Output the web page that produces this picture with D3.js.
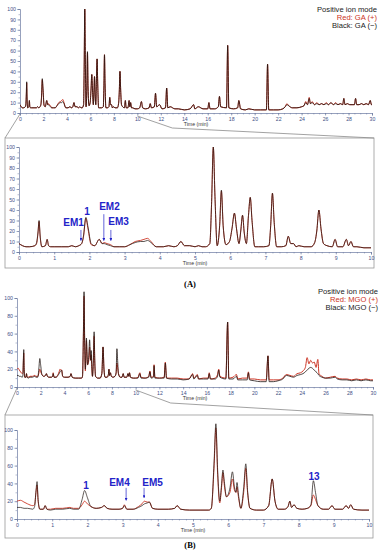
<!DOCTYPE html>
<html><head><meta charset="utf-8">
<script src="https://cdn.jsdelivr.net/npm/d3@7"></script>
<style>body{margin:0;background:#fff}svg{display:block}</style>
</head><body>
<svg id="c" width="381" height="550"></svg>
<script>
// [time (min), red trace, black trace]
const gaTrace = [
[0.00,8,8],[0.10,6,6],[0.20,5,5],[0.30,5,5],[0.45,6,6],[0.50,8,9],[0.54,18,19],[0.57,29,30],[0.60,15,16],[0.65,5,5],
[0.75,6,6],[0.80,12,12],[0.84,6,6],[0.90,5,5],[1.00,5,5],[1.20,5,5],[1.40,5,5],[1.50,6,6],[1.60,5,5],[1.70,6,6],
[1.78,8,8],[1.83,14,15],[1.90,32,33],[1.96,22,24],[2.05,7,8],[2.15,6,6],[2.28,12,12],[2.36,8,8],[2.42,9,8],[2.50,8,7],
[2.60,7,6],[2.70,5,5],[2.85,5,5],[3.00,5,5],[3.15,7,7],[3.30,10,9],[3.45,11,10],[3.55,12,10],[3.65,13,11],[3.75,10,9],
[3.90,5,5],[4.10,5,5],[4.25,6,6],[4.40,5,5],[4.50,6,6],[4.60,10,10],[4.70,6,6],[4.85,6,6],[5.00,5,5],[5.10,6,6],
[5.20,5,5],[5.30,5,5],[5.42,8,8],[5.47,45,45],[5.52,100,100],[5.57,50,50],[5.63,6,6],[5.70,25,25],[5.75,58,59],[5.80,25,25],
[5.88,7,7],[5.98,10,10],[6.05,22,22],[6.12,37,37],[6.18,22,22],[6.25,8,8],[6.30,20,20],[6.35,35,35],[6.40,18,18],[6.46,8,8],
[6.52,35,35],[6.57,52,52],[6.62,30,30],[6.70,5,5],[6.80,5,5],[6.95,5,5],[7.10,6,6],[7.15,25,25],[7.20,56,56],[7.25,28,28],
[7.32,5,5],[7.45,5,5],[7.58,6,6],[7.65,15,15],[7.72,8,8],[7.80,8,8],[7.87,5,5],[7.95,6,6],[8.10,5,5],[8.30,5,5],
[8.40,9,9],[8.46,20,20],[8.52,40,40],[8.58,22,22],[8.65,8,8],[8.75,6,6],[8.90,5,5],[8.98,12,12],[9.05,5,5],[9.20,5,5],
[9.30,12,12],[9.36,6,6],[9.43,10,10],[9.50,5,5],[9.60,5,5],[9.80,4,4],[10.00,4,4],
[10.20,5,5],[10.35,11,11],[10.45,5,5],[10.70,4,4],[11.00,5,5],[11.10,9,9],[11.20,5,5],[11.45,6,6],[11.55,19,19],[11.65,6,6],
[11.90,8,8],[12.10,4,4],[12.40,5,5],[12.50,24,24],[12.60,5,5],[12.80,6,6],[13.20,4,4],[13.50,4,4],[14.00,3,3],[14.50,4,4],
[14.80,8,8],[14.90,4,4],[15.20,6,6],[15.60,4,4],[16.00,4,4],[16.10,10,10],[16.20,4,4],[16.60,4,4],[16.90,6,6],[17.00,16,16],
[17.10,6,6],[17.60,5,5],[17.70,65,65],[17.80,5,5],[18.20,4,4],[18.55,5,5],[18.65,12,12],[18.80,4,4],[19.20,3,3],[19.50,4,4],
[20.00,3,3],[20.50,3,3],[21.00,3,3],[21.10,47,47],[21.20,3,3],[21.60,3,3],[22.00,3,3],[22.40,4,4],[22.60,6,6],[22.75,9,8],
[22.90,7,7],[23.20,5,5],[23.60,5,5],[24.00,6,6],[24.20,7,7],[24.35,11,10],[24.50,8,8],[24.65,15,14],[24.75,9,9],[24.90,11,10],
[25.10,8,8],[25.30,10,9],[25.50,8,8],[25.70,9,9],[25.90,8,8],[26.10,10,9],[26.30,8,8],[26.50,10,10],[26.70,8,8],[26.90,10,9],
[27.10,8,8],[27.30,9,9],[27.50,8,8],[27.60,14,14],[27.70,8,8],[27.90,9,9],[28.10,8,8],[28.30,8,8],[28.50,8,8],[28.60,14,14],
[28.70,8,8],[28.90,8,8],[29.10,9,9],[29.30,8,8],[29.50,9,9],[29.70,8,8],[29.85,12,12],[29.95,8,8],[30.00,8,8]
];
const mgoTrace = [
[0.00,20,13],[0.10,21,13],[0.20,19,12],[0.30,17,12],[0.45,15,11],[0.50,16,14],[0.54,30,32],[0.57,38,42],[0.60,20,22],[0.65,11,11],
[0.75,11,11],[0.80,15,15],[0.85,11,11],[0.95,11,10],[1.10,12,11],[1.30,12,11],[1.50,13,12],[1.60,12,11],[1.75,12,11],[1.85,16,22],
[1.92,20,32],[2.00,17,24],[2.10,14,14],[2.25,12,12],[2.40,13,13],[2.48,15,15],[2.56,12,12],[2.70,11,11],[2.90,11,11],[3.00,12,12],
[3.05,16,15],[3.12,11,11],[3.30,11,11],[3.45,14,13],[3.55,17,15],[3.62,20,17],[3.70,19,18],[3.76,19,19],[3.85,12,12],[4.00,11,11],
[4.30,11,11],[4.48,12,12],[4.55,15,15],[4.65,11,11],[4.90,10,10],[5.20,10,10],[5.45,10,10],[5.52,12,12],[5.60,60,65],[5.65,102,107],
[5.70,50,55],[5.76,18,20],[5.81,35,38],[5.85,52,55],[5.89,38,42],[5.95,25,25],[6.05,30,35],[6.12,45,53],[6.18,32,35],[6.22,30,30],
[6.25,36,41],[6.29,25,28],[6.36,12,12],[6.44,30,35],[6.50,57,62],[6.55,30,32],[6.62,12,12],[6.80,10,10],[7.00,10,10],[7.15,15,15],
[7.25,45,45],[7.33,20,20],[7.42,11,11],[7.60,11,11],[7.70,14,14],[7.75,20,20],[7.80,13,13],[7.87,16,16],[7.95,12,12],[8.10,11,11],
[8.25,12,12],[8.35,15,16],[8.42,27,43],[8.48,22,30],[8.55,15,15],[8.70,11,11],[8.85,11,11],[8.95,15,15],[9.03,11,11],[9.25,11,11],
[9.35,15,15],[9.42,12,12],[9.48,16,16],[9.56,11,11],[9.80,10,10],[10.00,10,10],
[10.20,11,10],[10.35,16,15],[10.45,11,10],[10.80,10,10],[11.10,12,11],[11.20,18,17],[11.30,11,10],[11.50,12,11],[11.55,25,24],[11.62,11,10],
[12.00,10,10],[12.40,11,10],[12.50,28,27],[12.60,10,10],[13.00,10,9],[13.50,10,9],[14.00,9,8],[14.50,9,9],[14.80,15,14],[14.90,10,9],
[15.20,14,13],[15.30,9,9],[15.70,10,9],[16.10,10,9],[16.20,16,15],[16.30,9,9],[16.70,10,9],[16.90,14,12],[17.00,20,19],[17.10,12,11],
[17.60,10,9],[17.75,73,73],[17.85,10,9],[18.20,11,9],[18.50,14,12],[18.60,9,8],[19.00,10,8],[19.40,10,8],[19.50,17,16],[19.60,9,8],
[20.00,9,7],[20.50,8,6],[21.00,8,6],[21.15,35,35],[21.25,8,6],[21.60,8,6],[22.00,8,7],[22.40,10,9],[22.70,14,13],[23.00,13,12],
[23.30,12,11],[23.60,15,13],[23.90,16,14],[24.10,18,15],[24.30,22,17],[24.45,33,19],[24.60,26,21],[24.75,30,22],[24.90,27,21],[25.05,28,19],
[25.20,22,17],[25.35,31,15],[25.45,15,13],[25.70,12,11],[26.00,10,10],[26.40,11,10],[26.80,12,11],[27.00,10,9],[27.40,9,8],[27.80,9,8],
[28.20,8,7],[28.60,9,8],[29.00,8,7],[29.40,9,8],[29.80,8,7],[30.00,8,7]
];
const fullTimeTicks = [0,2,4,6,8,10,12,14,16,18,20,22,24,26,28,30];
const zoomTimeTicks = [0,1,2,3,4,5,6,7,8,9,10];
const gaYTicks = [0,10,20,30,40,50,60,70,80,90,100];
const mgoYTicks = [0,20,40,60,80,100];
const legendA = ["Positive ion mode","Red: GA (+)","Black: GA (\u2212)"];
const legendB = ["Positive ion mode","Red: MGO (+)","Black: MGO (\u2212)"];
const panelLabels = ["(A)","(B)"];
const axisTitle = "Time (min)";
// annotations: [label, time, value]
const annotA = [["EM1",1.55,25],["1",1.93,35],["EM2",2.57,40],["EM3",2.83,26]];
const arrowsA = [[1.76,21,11],[2.41,36,11],[2.61,21,11]];
const annotB = [["1",1.96,34],["EM4",2.91,37],["EM5",3.85,37],["13",8.44,44]];
const arrowsB = [[3.10,35,21],[3.61,35,24]];

const svg = d3.select("#c");
const RED = "#cc3424", BLK = "#1e1410", AX = "#6a78a0", LBL = "#3f4f86", BLUE = "#2323c8";
const defs = svg.append("defs");
defs.append("marker").attr("id","ah").attr("viewBox","0 0 6 6").attr("refX",5).attr("refY",3)
  .attr("markerWidth",4).attr("markerHeight",4).attr("orient","auto")
  .append("path").attr("d","M0,0L6,3L0,6Z").attr("fill",BLUE);

let clipId = 0;
function panel(o){
  const x = d3.scaleLinear().domain([0,o.tmax]).range([o.x0,o.x1]);
  const y = d3.scaleLinear().domain([0,100]).range([o.yb,o.yt]);
  const g = svg.append("g");
  const xm = g.append("g").attr("transform",`translate(0,${o.yb})`)
    .call(d3.axisBottom(x).tickValues(d3.range(0,o.tmax+1e-9,o.xMinor)).tickSize(1.5).tickFormat(""));
  xm.select(".domain").remove(); xm.selectAll("line").attr("stroke",AX).attr("stroke-width",0.5);
  const ym = g.append("g").attr("transform",`translate(${o.x0},0)`)
    .call(d3.axisLeft(y).tickValues(d3.range(0,100.1,o.yMinor)).tickSize(1.5).tickFormat(""));
  ym.select(".domain").remove(); ym.selectAll("line").attr("stroke",AX).attr("stroke-width",0.5);
  const xa = g.append("g").attr("transform",`translate(0,${o.yb})`)
    .call(d3.axisBottom(x).tickValues(o.xTicks).tickSize(2.5).tickPadding(1.5));
  const ya = g.append("g").attr("transform",`translate(${o.x0},0)`)
    .call(d3.axisLeft(y).tickValues(o.yTicks).tickSize(2.5).tickPadding(1.5));
  [xa,ya].forEach(a=>{
    a.select(".domain").attr("stroke",AX).attr("stroke-width",0.7);
    a.selectAll("line").attr("stroke",AX).attr("stroke-width",0.6);
    a.selectAll("text").attr("fill",LBL).attr("font-size",5.2).attr("font-family","Liberation Sans, Arial, sans-serif");
  });
  g.append("text").attr("x",(o.x0+o.x1)/2).attr("y",o.yb+12.5).attr("text-anchor","middle")
    .attr("font-size",5.2).attr("fill","#333").attr("font-family","Liberation Sans, Arial, sans-serif").text(axisTitle);
  const id = "clip"+(clipId++);
  defs.append("clipPath").attr("id",id).append("rect")
    .attr("x",o.x0).attr("y",o.yt-20).attr("width",o.x1-o.x0).attr("height",o.yb-o.yt+20);
  const data = o.data.filter(d=>d[0]<=o.tmax+1e-9);
  const lr = d3.line().x(d=>x(d[0])).y(d=>y(d[1])).curve(d3.curveMonotoneX);
  const lb = d3.line().x(d=>x(d[0])).y(d=>y(d[2])).curve(d3.curveMonotoneX);
  const tg = g.append("g").attr("clip-path",`url(#${id})`);
  tg.append("path").attr("d",lr(data)).attr("fill","none").attr("stroke",RED).attr("stroke-width",o.lw).attr("stroke-linejoin","round");
  tg.append("path").attr("d",lb(data)).attr("fill","none").attr("stroke",BLK).attr("stroke-width",o.lw*0.9).attr("stroke-opacity",0.88).attr("stroke-linejoin","round");
  return {x,y,g};
}
function legend(lines,xr,y0){
  const cols = ["#222",RED,"#222"];
  lines.forEach((t,i)=>svg.append("text").attr("x",xr).attr("y",y0+i*8).attr("text-anchor","end")
    .attr("font-size",7.6).attr("fill",cols[i]).attr("font-family","Liberation Sans, Arial, sans-serif").text(t));
}
function annots(p,labels,arrows){
  labels.forEach(([t,tx,v])=>p.g.append("text").attr("x",p.x(tx)).attr("y",p.y(v)).attr("text-anchor","middle")
    .attr("font-size",10).attr("font-weight","bold").attr("fill",BLUE)
    .attr("font-family","Liberation Sans, Arial, sans-serif").text(t));
  arrows.forEach(([tx,v0,v1])=>p.g.append("line").attr("x1",p.x(tx)).attr("x2",p.x(tx))
    .attr("y1",p.y(v0)).attr("y2",p.y(v1)).attr("stroke",BLUE).attr("stroke-width",0.7).attr("marker-end","url(#ah)"));
}
function zoomLines(p0,yBoxTop,boxL,boxR,kinkY){
  const c="#8a8a8a";
  svg.append("line").attr("x1",p0.x(0)).attr("y1",p0.y(0)+1).attr("x2",boxL).attr("y2",yBoxTop).attr("stroke",c).attr("stroke-width",0.8);
  svg.append("polyline").attr("points",`${p0.x(10)},${p0.y(0)+3} ${p0.x(10)+35},${kinkY} ${boxR},${yBoxTop}`)
    .attr("fill","none").attr("stroke",c).attr("stroke-width",0.8);
}
function box(x0,y0,x1,y1){
  svg.append("rect").attr("x",x0).attr("y",y0).attr("width",x1-x0).attr("height",y1-y0)
    .attr("fill","none").attr("stroke","#9a9a9a").attr("stroke-width",0.8);
}

// Panel A
const pA1 = panel({x0:20,x1:372,yb:113,yt:9,tmax:30,xTicks:fullTimeTicks,xMinor:0.5,yTicks:gaYTicks,yMinor:5,data:gaTrace,lw:1.0});
legend(legendA,377,12);
box(5,138,374,268);
zoomLines(pA1,138,5,374,128);
const pA2 = panel({x0:19,x1:371,yb:252,yt:147,tmax:10,xTicks:zoomTimeTicks,xMinor:0.2,yTicks:gaYTicks,yMinor:5,data:gaTrace,lw:0.9});
annots(pA2,annotA,arrowsA);
svg.append("text").attr("x",190).attr("y",287).attr("text-anchor","middle").attr("font-size",8.5)
  .attr("font-weight","bold").attr("font-family","Liberation Serif, Times New Roman, serif").text(panelLabels[0]);

// Panel B
const pB1 = panel({x0:17,x1:373,yb:387,yt:298,tmax:30,xTicks:fullTimeTicks,xMinor:0.5,yTicks:mgoYTicks,yMinor:10,data:mgoTrace,lw:1.0});
legend(legendB,378,294);
box(5,415,373,538);
zoomLines(pB1,415,5,373,403);
const pB2 = panel({x0:17,x1:369,yb:519,yt:430,tmax:10,xTicks:zoomTimeTicks,xMinor:0.2,yTicks:mgoYTicks,yMinor:10,data:mgoTrace,lw:0.9});
annots(pB2,annotB,arrowsB);
svg.append("text").attr("x",190).attr("y",548).attr("text-anchor","middle").attr("font-size",8.5)
  .attr("font-weight","bold").attr("font-family","Liberation Serif, Times New Roman, serif").text(panelLabels[1]);
</script>
</body></html>
